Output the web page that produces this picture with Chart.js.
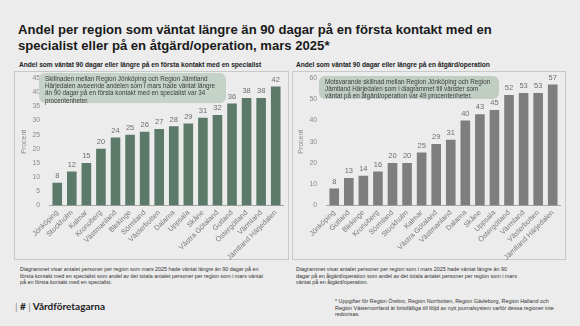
<!DOCTYPE html>
<html>
<head>
<meta charset="utf-8">
<script src="https://cdn.jsdelivr.net/npm/chart.js@4"></script>
<style>
  body { margin: 0; background: #ececec; font-family: "Liberation Sans", Arial, sans-serif; }
  #page { position: relative; width: 580px; height: 326px; overflow: hidden; }
  .abs { position: absolute; }
  h1 { position: absolute; left: 18px; top: 22px; margin: 0; font-size: 13.1px; line-height: 15.5px; font-weight: bold; color: #1a1a1a; width: 500px; }
  .sub { font-size: 6.6px; font-weight: bold; color: #222; white-space: nowrap; }
  .panel { border: 1px solid #c8c8c8; box-sizing: border-box; }
  .note { background: #c4d2c7; border-radius: 6px; color: #3c3c3c; font-size: 6.3px; line-height: 7.2px; padding: 2px 6px; box-sizing: border-box; }
  .foot { font-size: 5.4px; line-height: 6.6px; color: #333; }
  .logo { font-size: 10px; font-weight: bold; color: #1e1e1e; font-family: Lato, "Liberation Sans", sans-serif; }
</style>
</head>
<body>
<div id="page">
  <h1>Andel per region som väntat längre än 90 dagar på en första kontakt med en specialist eller på en åtgärd/operation, mars 2025*</h1>

  <div class="abs sub" style="left:19px; top:61px;">Andel som väntat 90 dagar eller längre på en första kontakt med en specialist</div>
  <div class="abs sub" style="left:296px; top:61px;">Andel som väntat 90 dagar eller längre på en åtgärd/operation</div>

  <div class="abs panel" style="left:14px; top:71px; width:275px; height:189px;"></div>
  <div class="abs panel" style="left:292px; top:71px; width:274px; height:189px;"></div>

  <div class="abs" style="left:14px; top:72px; width:274px; height:193px;"><canvas id="leftChart"></canvas></div>
  <div class="abs" style="left:292px; top:72px; width:273px; height:193px;"><canvas id="rightChart"></canvas></div>

  <div class="abs note" style="left:39px; top:73px; width:187px; height:30px;">Skillnaden mellan Region Jönköping och Region Jämtland Härjedalen avseende andelen som i mars hade väntat längre än 90 dagar på en första kontakt med en specialist var 34 procentenheter.</div>
  <div class="abs note" style="left:319px; top:76px; width:180px; height:23px; background:#bfcdc3;">Motsvarande skillnad mellan Region Jönköping och Region Jämtland Härjedalen som i diagrammet till vänster som väntat på en åtgärd/operation var 49 procentenheter.</div>

  <div class="abs foot" style="left:20px; top:266px; width:250px;">Diagrammet visar antalet personer per region som mars 2025 hade väntat längre än 90 dagar på en första kontakt med en specialist som andel av det totala antalet personer per region som i mars väntat på en första kontakt med en specialist.</div>
  <div class="abs foot" style="left:296px; top:266px; width:225px;">Diagrammet visar antalet personer per region som i mars 2025 hade väntat längre än 90 dagar på en åtgärd/operation som andel av det totala antalet personer per region som i mars väntat på en åtgärd/operation.</div>
  <div class="abs foot" style="left:335px; top:298px; width:225px;">* Uppgifter för Region Örebro, Region Norrbotten, Region Gävleborg, Region Halland och Region Västernorrland är bristfälliga till följd av nytt journalsystem varför dessa regioner inte redovisas.</div>

  <div class="abs logo" style="left:15px; top:300px;"><span style="font-weight:normal;color:#888;">|</span> # <span style="font-weight:normal;color:#888;">|</span> Vårdföretagarna</div>
</div>

<script>
// first contact with a specialist
const leftLabels = ['Jönköping', 'Stockholm', 'Kalmar', 'Kronoberg', 'Västmanland', 'Blekinge', 'Sörmland', 'Västerbotten',
  'Dalarna', 'Uppsala', 'Skåne', 'Västra Götaland', 'Gotland', 'Östergötland', 'Värmland', 'Jämtland Härjedalen'];
const leftValues = [8, 12, 15, 20, 24, 25, 26, 27, 28, 29, 31, 32, 36, 38, 38, 42];
const leftTicks = [0, 5, 10, 15, 20, 25, 30, 35, 40, 45];

// treatment / operation
const rightLabels = ['Jönköping', 'Gotland', 'Blekinge', 'Kronoberg', 'Sörmland', 'Stockholm', 'Kalmar', 'Västra Götaland',
  'Västmanland', 'Dalarna', 'Skåne', 'Uppsala', 'Östergötland', 'Värmland', 'Västerbotten', 'Jämtland Härjedalen'];
const rightValues = [8, 13, 14, 16, 20, 20, 25, 29, 31, 40, 43, 45, 52, 53, 53, 57];
const rightTicks = [0, 10, 20, 30, 40, 50, 60];

const FONT = '"Liberation Sans", Arial, sans-serif';

// values above bars
const barValues = {
  id: 'barValues',
  afterDatasetsDraw(chart) {
    const ctx = chart.ctx;
    const meta = chart.getDatasetMeta(0);
    ctx.save();
    ctx.font = '7.5px ' + FONT;
    ctx.fillStyle = '#6e6e6e';
    ctx.textAlign = 'center';
    ctx.textBaseline = 'bottom';
    meta.data.forEach((bar, i) => {
      ctx.fillText(chart.data.datasets[0].data[i], bar.x, bar.y - 3);
    });
    ctx.restore();
  }
};

function makeChart(id, labels, values, ticks, color, pad) {
  return new Chart(document.getElementById(id), {
    type: 'bar',
    data: {
      labels: labels,
      datasets: [{ data: values, backgroundColor: color, barPercentage: 0.66, categoryPercentage: 1 }]
    },
    options: {
      responsive: true,
      maintainAspectRatio: false,
      animation: false,
      layout: { padding: pad },
      plugins: { legend: { display: false }, tooltip: { enabled: false } },
      scales: {
        x: {
          grid: { display: false, drawTicks: false },
          border: { display: true, color: '#a8a8a8' },
          ticks: {
            color: '#7a7a7a', font: { size: 7.3, family: FONT },
            minRotation: 45, maxRotation: 45, autoSkip: false, padding: 3
          }
        },
        y: {
          min: 0,
          max: ticks[ticks.length - 1],
          afterBuildTicks: axis => { axis.ticks = ticks.map(v => ({ value: v })); },
          grid: { display: false },
          border: { display: false },
          ticks: { color: '#8a8a8a', font: { size: 6.8, family: FONT }, padding: 2 },
          title: { display: true, text: 'Procent', color: '#8a8a8a', font: { size: 7, family: FONT }, padding: 2 }
        }
      }
    },
    plugins: [barValues]
  });
}

makeChart('leftChart', leftLabels, leftValues, leftTicks, '#5b7a69', { left: 4, right: 5, top: 5, bottom: 0 });
makeChart('rightChart', rightLabels, rightValues, rightTicks, '#7e7e7e', { left: 3, right: 5, top: 6, bottom: 0 });
</script>
</body>
</html>
